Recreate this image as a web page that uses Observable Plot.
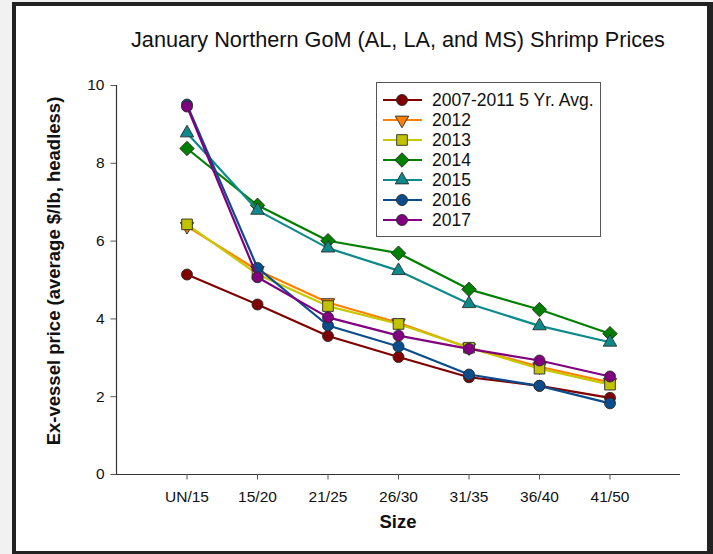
<!DOCTYPE html>
<html>
<head>
<meta charset="utf-8">
<script src="https://cdn.jsdelivr.net/npm/d3@7"></script>
<script src="https://cdn.jsdelivr.net/npm/@observablehq/plot@0.6"></script>
<style>
  html, body { margin: 0; padding: 0; background: #f1f1f1; width: 713px; height: 554px; overflow: hidden; font-family: "Liberation Sans", Arial, sans-serif; }
  #frame { position: absolute; left: 12px; top: 2px; width: 701px; height: 552px; box-sizing: border-box; background: #fff; border-style: solid; border-color: #222; border-width: 4px 6px 3px 4px; }
  #chart { position: absolute; left: 0; top: 0; }
  .txt { position: absolute; white-space: nowrap; color: #111; line-height: 20px; }
  #title { top: 30px; left: 0; width: 796px; text-align: center; font-size: 21.7px; }
  #xlabel { top: 512px; left: 0; width: 796px; text-align: center; font-size: 18.5px; font-weight: bold; }
  #ylabel { left: 54px; top: 271px; font-size: 18.5px; font-weight: bold; transform: translate(-50%, -50%) rotate(-90deg); }
  #legend { position: absolute; left: 376px; top: 82px; }
</style>
</head>
<body>
<div id="frame"></div>
<div id="chart"></div>
<div id="title" class="txt">January Northern GoM (AL, LA, and MS) Shrimp Prices</div>
<div id="xlabel" class="txt">Size</div>
<div id="ylabel" class="txt">Ex-vessel price (average $/lb, headless)</div>
<div id="legend"></div>
<script>
// ---- data ----
const sizes = ["UN/15", "15/20", "21/25", "26/30", "31/35", "36/40", "41/50"];
const seriesNames = ["2007-2011 5 Yr. Avg.", "2012", "2013", "2014", "2015", "2016", "2017"];
const avg0711 = [5.14, 4.37, 3.56, 3.02, 2.50, 2.28, 1.97];
const y2012 = [6.38, 5.25, 4.42, 3.90, 3.26, 2.77, 2.37];
const y2013 = [6.43, 5.15, 4.33, 3.87, 3.26, 2.72, 2.31];
const y2014 = [8.38, 6.92, 6.01, 5.69, 4.76, 4.24, 3.62];
const y2015 = [8.78, 6.79, 5.82, 5.24, 4.39, 3.82, 3.40];
const y2016 = [9.51, 5.31, 3.83, 3.29, 2.57, 2.28, 1.83];
const y2017 = [9.46, 5.07, 4.04, 3.57, 3.23, 2.93, 2.52];
const yTicks = [0, 2, 4, 6, 8, 10];

const seriesValues = [avg0711, y2012, y2013, y2014, y2015, y2016, y2017];
const colors = ["#800000", "#ff8000", "#c8c800", "#008000", "#0f8a8a", "#0b4c8c", "#800080"];
const fills  = ["#800000", "#ff8000", "#c2c200", "#008000", "#0f8a8a", "#0b4c8c", "#800080"];

const triangleDown = {
  draw(context, size) {
    const h = Math.sqrt(size / (Math.sqrt(3) * 3));
    context.moveTo(0, 2 * h);
    context.lineTo(Math.sqrt(3) * h, -h);
    context.lineTo(-Math.sqrt(3) * h, -h);
    context.closePath();
  }
};
const symbols = ["circle", triangleDown, "square", "diamond2", "triangle", "circle", "circle"];
const radii = [5.5, 5, 6, 6.5, 5, 5.5, 5.5];

const table = [];
seriesNames.forEach((s, i) => {
  sizes.forEach((sz, j) => table.push({series: s, si: i, size: sz, pos: j + 1, value: seriesValues[i][j]}));
});

const marks = [
  Plot.ruleY([0], {stroke: "#333", strokeWidth: 1.2}),
  Plot.ruleX([0], {stroke: "#333", strokeWidth: 1.2}),
  Plot.axisX({ticks: sizes.map((_, j) => j + 1), tickFormat: p => sizes[p - 1], tickSize: 5.5, tickPadding: 11, fontSize: 15.5, stroke: "#555", color: "#111", label: null}),
  Plot.axisY({ticks: yTicks, tickSize: 5.5, tickPadding: 6.5, fontSize: 15.5, stroke: "#555", color: "#111", label: null})
];
seriesNames.forEach((s, i) => {
  const d = table.filter(r => r.si === i);
  marks.push(Plot.line(d, {x: "pos", y: "value", stroke: colors[i], strokeWidth: 2.2}));
  marks.push(Plot.dot(d, {x: "pos", y: "value", symbol: () => symbols[i], r: radii[i], fill: fills[i], stroke: "#2a2a2a", strokeWidth: 0.9}));
});

const chart = Plot.plot({
  width: 713,
  height: 554,
  marginLeft: 116,
  marginRight: 33,
  marginTop: 85,
  marginBottom: 80,
  style: {background: "transparent", fontFamily: "Liberation Sans, Arial, sans-serif", overflow: "visible"},
  x: {type: "linear", domain: [0, 8], axis: null},
  y: {domain: [0, 10], axis: null},
  symbol: {type: "identity"},
  marks
});
document.getElementById("chart").appendChild(chart);

// ---- legend ----
const lg = d3.select("#legend").append("svg").attr("width", 226).attr("height", 156);
lg.append("rect").attr("x", 0.5).attr("y", 0.5).attr("width", 224).attr("height", 154)
  .attr("fill", "#fff").attr("stroke", "#555").attr("stroke-width", 1);
const symObj = {circle: d3.symbolCircle, square: d3.symbolSquare, diamond2: d3.symbolDiamond2, triangle: d3.symbolTriangle};
seriesNames.forEach((s, i) => {
  const cy = 18 + i * 20;
  const g = lg.append("g").attr("transform", `translate(0,${cy})`);
  g.append("line").attr("x1", 7).attr("x2", 46).attr("y1", 0).attr("y2", 0).attr("stroke", colors[i]).attr("stroke-width", 2.2);
  const t = typeof symbols[i] === "string" ? symObj[symbols[i]] : symbols[i];
  g.append("path").attr("transform", "translate(26,0)")
    .attr("d", d3.symbol(t, Math.PI * radii[i] * radii[i])())
    .attr("fill", fills[i]).attr("stroke", "#2a2a2a").attr("stroke-width", 0.9);
  g.append("text").attr("x", 56).attr("y", 6).attr("font-size", 17.5).attr("fill", "#111")
    .attr("font-family", "Liberation Sans, Arial, sans-serif").text(s);
});
</script>
</body>
</html>
